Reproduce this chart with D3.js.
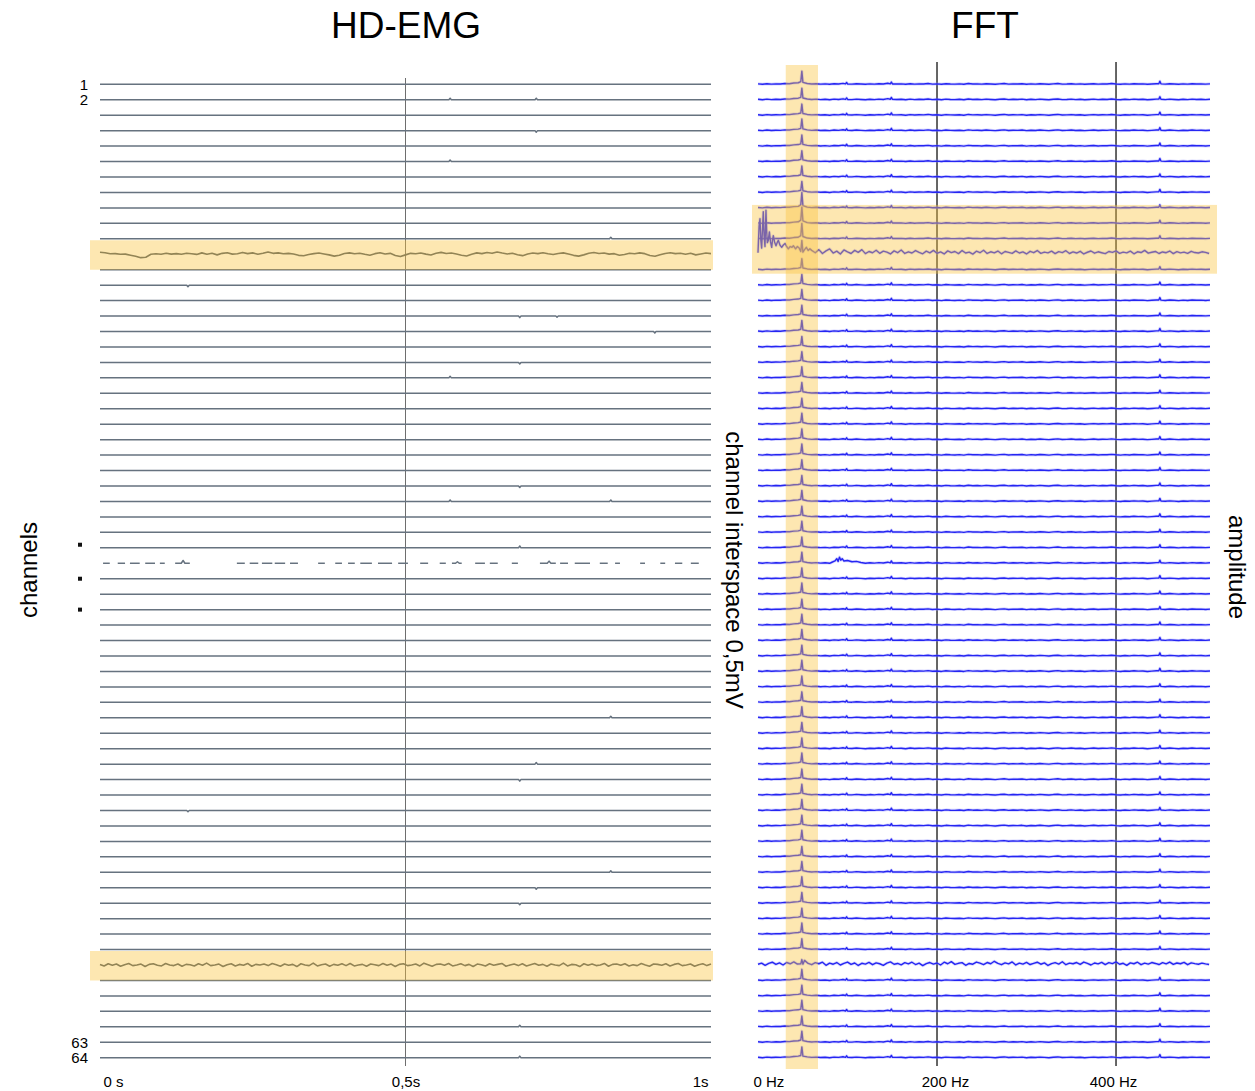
<!DOCTYPE html>
<html>
<head>
<meta charset="utf-8">
<script src="https://cdn.jsdelivr.net/npm/d3@7"></script>
<style>
  body { margin: 0; background: #fff; }
  svg { display: block; font-family: "Liberation Sans", Arial, sans-serif; }
</style>
</head>
<body>
<svg id="chart" width="1255" height="1091"></svg>
<script>
// ---------- data ----------
const channelCount = 64;
const labelledChannels = [1, 2, 63, 64];
const timeTicks = [0, 0.5, 1];
const timeTickLabels = ["0 s", "0,5s", "1s"];
const freqTicks = [0, 200, 400];
const freqTickLabels = ["0 Hz", "200 Hz", "400 Hz"];
const highlightedChannels = [12, 58];

// channel 12: slow wandering artefact (mV, evenly spaced over 1 s)
const ch12Trace = [0.065, 0.050, 0.015, 0.020, 0.000, 0.005, -0.030, -0.065, -0.110, -0.095, 0.000, 0.015, 0.000, 0.030, 0.005, 0.020, 0.000, 0.035, 0.015, -0.005, 0.045, 0.000, 0.030, -0.020, 0.030, 0.050, 0.005, 0.015, 0.060, 0.020, 0.045, 0.000, 0.030, 0.075, 0.030, 0.045, 0.015, 0.030, 0.010, -0.035, -0.050, -0.010, 0.020, 0.040, 0.010, -0.020, -0.060, -0.030, 0.025, 0.045, 0.015, 0.035, 0.000, -0.030, 0.020, 0.050, 0.010, 0.030, -0.040, -0.075, -0.020, 0.030, 0.015, 0.040, 0.005, -0.025, 0.030, 0.060, 0.025, 0.040, 0.010, -0.030, -0.055, 0.000, 0.045, 0.020, 0.055, 0.030, 0.075, 0.040, 0.010, 0.035, -0.015, -0.045, 0.010, 0.040, 0.020, 0.050, 0.015, -0.010, 0.025, 0.045, 0.010, -0.035, -0.060, -0.020, 0.030, 0.055, 0.025, 0.040, 0.005, 0.020, -0.030, -0.010, 0.035, 0.015, 0.045, 0.020, -0.040, -0.065, -0.015, 0.025, 0.050, 0.020, 0.035, 0.000, 0.030, -0.020, 0.010, 0.040, 0.020];

// channel 58: broadband noise (mV, evenly spaced over 1 s)
const ch58Trace = [0.02, -0.03, 0.04, -0.01, 0.03, -0.04, 0.01, 0.05, -0.02, 0.00, 0.03, -0.05, 0.02, 0.04, -0.01, -0.03, 0.05, 0.00, -0.02, 0.03,
  -0.04, 0.02, 0.01, -0.03, 0.04, -0.01, 0.06, -0.02, 0.00, 0.03, -0.05, 0.01, 0.04, -0.03, 0.02, -0.01, 0.05, -0.04, 0.02, 0.00,
  0.03, -0.02, 0.05, 0.01, -0.04, 0.03, -0.01, 0.02, -0.05, 0.04, 0.00, -0.02, 0.06, -0.03, 0.01, 0.03, -0.04, 0.02, -0.01, 0.04,
  -0.02, 0.05, -0.03, 0.00, 0.02, -0.04, 0.03, 0.01, -0.02, 0.05, -0.01, 0.03, -0.05, 0.02, 0.04, -0.02, 0.00, 0.03, -0.03, 0.06,
  0.01, -0.04, 0.02, 0.03, -0.01, 0.05, -0.03, 0.00, 0.04, -0.02, 0.02, -0.05, 0.03, 0.01, -0.03, 0.04, -0.01, 0.02, 0.05, -0.04,
  0.00, 0.03, -0.02, 0.04, -0.03, 0.01, 0.05, -0.01, 0.02, -0.04, 0.03, 0.00, -0.02, 0.06, -0.03, 0.02, 0.01, -0.05, 0.04, -0.01,
  0.03, -0.02, 0.00, 0.05, -0.04, 0.02, 0.03, -0.01, 0.04, -0.03, 0.01, -0.02, 0.05, 0.00, -0.04, 0.03, 0.02, -0.01, 0.04, -0.03,
  0.02, 0.05, -0.02, 0.00, 0.03, -0.04, 0.01, 0.04, -0.02, 0.03];

// channel 32: intermittent contact, only short pieces recorded (s)
const ch32Segments = [[0.005, 0.016], [0.029, 0.041], [0.049, 0.065], [0.074, 0.090], [0.098, 0.106], [0.123, 0.147],
  [0.224, 0.237], [0.245, 0.259], [0.265, 0.282], [0.286, 0.303], [0.311, 0.324], [0.357, 0.368], [0.385, 0.396],
  [0.406, 0.417], [0.426, 0.445], [0.455, 0.478], [0.488, 0.504], [0.524, 0.537], [0.556, 0.566], [0.576, 0.592],
  [0.614, 0.630], [0.638, 0.651], [0.674, 0.684], [0.720, 0.746], [0.753, 0.766], [0.777, 0.802], [0.818, 0.831],
  [0.843, 0.851], [0.884, 0.892], [0.917, 0.925], [0.941, 0.953], [0.967, 0.980]];
const ch32BumpTimes = [0.136, 0.585, 0.735];
const ch32BumpValues = [0.09, 0.05, 0.07];

// isolated spikes on the quiet channels
const spikeChannels = [2, 2, 4, 6, 11, 14, 16, 16, 17, 19, 20, 27, 28, 28, 31, 42, 45, 46, 48, 52, 53, 54, 62, 64];
const spikeTimes = [0.573, 0.714, 0.714, 0.573, 0.836, 0.144, 0.687, 0.748, 0.908, 0.687, 0.573, 0.687, 0.573, 0.836, 0.687, 0.836, 0.714, 0.687, 0.144, 0.836, 0.714, 0.687, 0.687, 0.687];
const spikeValues = [0.05, 0.05, -0.05, 0.05, 0.05, -0.05, -0.05, -0.04, -0.05, -0.05, 0.05, -0.05, 0.05, 0.05, 0.06, 0.05, 0.05, -0.05, -0.04, 0.05, -0.05, -0.05, 0.05, 0.05];

// spectra (amplitude in units of one row spacing)
const rippleFreqs = d3.range(0, 506, 5);
const baseRipple = [0.03, 0.00, 0.04, 0.01, 0.03, 0.02, 0.05, 0.04, 0.08, 0.10,
  0.10, 0.05, 0.02, 0.04, 0.01, 0.03, 0.00, 0.04, 0.02, 0.06,
  0.03, 0.01, 0.04, 0.02, 0.00, 0.03, 0.01, 0.04, 0.02, 0.07,
  0.05, 0.02, 0.03, 0.00, 0.04, 0.01, 0.03, 0.02, 0.05, 0.01,
  0.03, 0.00, 0.04, 0.02, 0.01, 0.03, 0.00, 0.05, 0.02, 0.03,
  0.01, 0.04, 0.02, 0.00, 0.03, 0.05, 0.01, 0.03, 0.02, 0.04,
  0.00, 0.03, 0.01, 0.04, 0.02, 0.00, 0.03, 0.05, 0.01, 0.02,
  0.04, 0.01, 0.03, 0.00, 0.02, 0.04, 0.01, 0.03, 0.02, 0.05,
  0.02, 0.00, 0.03, 0.01, 0.04, 0.02, 0.03, 0.00, 0.02, 0.04,
  0.03, 0.01, 0.04, 0.02, 0.00, 0.03, 0.01, 0.04, 0.02, 0.03,
  0.01, 0.03];
const mainsFreq = 49;
const mainsPeak = [0.85, 0.75, 0.72, 0.75, 0.72, 0.70, 0.72, 0.72, 1.0, 1.05,
  1.0, 0.9, 0.72, 0.70, 0.72, 0.70, 0.72, 0.68, 0.70, 0.72,
  0.70, 0.68, 0.72, 0.70, 0.72, 0.70, 0.68, 0.72, 0.70, 0.72,
  0.70, 0.72, 0.70, 0.72, 0.68, 0.70, 0.72, 0.70, 0.72, 0.70,
  0.68, 0.72, 0.70, 0.70, 0.72, 0.68, 0.70, 0.72, 0.70, 0.72,
  0.68, 0.70, 0.72, 0.70, 0.68, 0.72, 0.70, 0.35, 0.72, 0.70,
  0.72, 0.70, 0.72, 0.70];
const harmonicFreqs = [99, 149, 449];
const harmonicPeaks = [0.12, 0.15, 0.2];

// channel 12 spectrum: strong low-frequency content
const ch12LowFreq = [[0, 0.1], [1.2, 1.8], [2.2, 2.3], [3.2, 0.9], [4.1, 0.4], [5.0, 1.6], [5.9, 2.75], [6.8, 1.2], [7.8, 0.5],
  [8.9, 2.85], [9.6, 1.6], [10.4, 0.75], [11.5, 0.9], [12.7, 1.45], [14, 0.8], [15.3, 0.45], [16.2, 0.9], [17.1, 1.2],
  [18.5, 0.8], [20.1, 0.55], [21.4, 0.75], [22.7, 0.9], [24.5, 0.6], [26.5, 0.45], [28.3, 0.6], [30.2, 0.7], [32, 0.5],
  [33.9, 0.35], [36, 0.5], [38, 0.45], [39.5, 0.55], [42, 0.35], [44, 0.5], [46, 0.4], [52, 0.3], [54, 0.45], [56, 0.25], [58, 0.35]];
const ch12TailFreqs = d3.range(60, 505, 4);
const ch12Tail = [0.25, 0.10, 0.30, 0.05, 0.22, 0.35, 0.08, 0.20, 0.02, 0.28,
  0.15, 0.05, 0.25, 0.12, 0.30, 0.04, 0.18, 0.10, 0.26, 0.06,
  0.20, 0.14, 0.02, 0.22, 0.10, 0.28, 0.05, 0.16, 0.08, 0.24,
  0.12, 0.03, 0.20, 0.09, 0.25, 0.06, 0.15, 0.02, 0.22, 0.11,
  0.18, 0.04, 0.24, 0.08, 0.14, 0.01, 0.20, 0.10, 0.26, 0.05,
  0.16, 0.09, 0.21, 0.03, 0.18, 0.12, 0.06, 0.22, 0.08, 0.15,
  0.02, 0.19, 0.10, 0.24, 0.06, 0.14, 0.09, 0.20, 0.04, 0.17,
  0.11, 0.23, 0.05, 0.15, 0.08, 0.19, 0.02, 0.13, 0.21, 0.07,
  0.16, 0.10, 0.04, 0.18, 0.12, 0.22, 0.06, 0.14, 0.09, 0.20,
  0.03, 0.16, 0.11, 0.25, 0.07, 0.13, 0.18, 0.05, 0.15, 0.10,
  0.21, 0.04, 0.17, 0.09, 0.14, 0.06, 0.19, 0.11, 0.08, 0.16,
  0.12, 0.05];

// channel 58 spectrum: broadband noise floor
const ch58Freqs = d3.range(0, 505, 4);
const ch58Spectrum = [0.05, 0.12, -0.02, 0.10, 0.18, 0.04, 0.14, 0.00, 0.16, 0.08,
  0.20, 0.06, 0.12, 0.30, 0.10, 0.02, 0.15, 0.08, 0.18, -0.02,
  0.12, 0.05, 0.16, 0.00, 0.10, 0.19, 0.04, 0.13, -0.03, 0.11,
  0.06, 0.17, 0.02, 0.14, 0.08, -0.02, 0.12, 0.20, 0.05, 0.10,
  0.01, 0.15, 0.07, 0.18, 0.03, 0.12, -0.04, 0.09, 0.16, 0.06,
  0.13, 0.00, 0.18, 0.08, 0.22, 0.04, 0.11, 0.15, -0.02, 0.10,
  0.05, 0.19, 0.12, 0.03, 0.16, 0.08, 0.24, 0.10, 0.02, 0.14,
  0.07, 0.20, 0.00, 0.12, 0.06, 0.17, 0.03, 0.11, 0.18, 0.05,
  0.14, -0.03, 0.09, 0.15, 0.06, 0.21, 0.02, 0.12, 0.08, 0.16,
  0.04, 0.19, 0.10, 0.00, 0.13, 0.07, 0.17, 0.03, 0.15, 0.09,
  0.20, 0.05, 0.11, -0.02, 0.14, 0.08, 0.18, 0.02, 0.12, 0.06,
  0.16, 0.10, 0.03, 0.15, 0.07, 0.19, 0.04, 0.13, 0.08, 0.17,
  0.02, 0.14, 0.09, 0.05, 0.12, 0.07, 0.03];

// channel 32 spectrum: small hump near 90 Hz
const ch32Hump = [[82, 0.05], [86, 0.15], [88, 0.3], [89.5, 0.12], [91, 0.4], [92.5, 0.2], [94, 0.3], [96, 0.15], [100, 0.18], [105, 0.1], [110, 0.12], [115, 0.05]];

// shaded regions
const fftRowBand = [9, 13];     // channels
const mainsBand = [31, 67];     // Hz

// ---------- layout ----------
const svg = d3.select("#chart");
const emgX = d3.scaleLinear().domain([0, 1]).range([100, 711]);
const rowY = d3.scaleLinear().domain([1, channelCount]).range([84.3, 1057.7]);
const rowStep = rowY(2) - rowY(1);
const mvToPx = d3.scaleLinear().domain([0, 0.5]).range([0, rowStep]);
const fftX = d3.scaleLinear().domain([0, 505]).range([758, 1210]);
const ampToPx = d3.scaleLinear().domain([0, 1]).range([0, rowStep]);

const hlFill = "rgb(250,195,60)";
const hlOpacity = 0.4;

// titles
svg.append("text").attr("x", 406).attr("y", 38).attr("text-anchor", "middle")
  .attr("font-size", 37).text("HD-EMG");
svg.append("text").attr("x", 985).attr("y", 38).attr("text-anchor", "middle")
  .attr("font-size", 37).text("FFT");

// side labels
svg.append("text").attr("transform", "translate(37,570) rotate(-90)")
  .attr("text-anchor", "middle").attr("font-size", 24).text("channels");
svg.append("text").attr("transform", "translate(726,570) rotate(90)")
  .attr("text-anchor", "middle").attr("font-size", 24).text("channel interspace 0,5mV");
svg.append("text").attr("transform", "translate(1229,567) rotate(90)")
  .attr("text-anchor", "middle").attr("font-size", 24).text("amplitude");

// ---------- HD-EMG panel ----------
const emg = svg.append("g");
emg.append("line")
  .attr("x1", emgX(0.5)).attr("x2", emgX(0.5))
  .attr("y1", 78).attr("y2", 1066)
  .attr("stroke", "#6e6e6e").attr("stroke-width", 1);

function emgSegments(ch) {
  if (ch === 12) return [ch12Trace.map((v, k) => [k / (ch12Trace.length - 1), v])];
  if (ch === 58) return [ch58Trace.map((v, k) => [k / (ch58Trace.length - 1), v])];
  if (ch === 32) {
    return ch32Segments.map(([a, b]) => {
      const pts = [[a, 0]];
      ch32BumpTimes.forEach((t, k) => {
        if (t > a && t < b) pts.push([t - 0.003, 0], [t, ch32BumpValues[k]], [t + 0.003, 0]);
      });
      pts.push([b, 0]);
      return pts;
    });
  }
  const pts = [[0, 0]];
  spikeChannels.map((c, k) => ({ c, t: spikeTimes[k], v: spikeValues[k] }))
    .filter(s => s.c === ch)
    .sort((a, b) => a.t - b.t)
    .forEach(s => pts.push([s.t - 0.002, 0], [s.t, s.v], [s.t + 0.002, 0]));
  pts.push([1, 0]);
  return [pts];
}

const channels = d3.range(1, channelCount + 1);
channels.forEach(ch => {
  const line = d3.line().x(d => emgX(d[0])).y(d => rowY(ch) - mvToPx(d[1]));
  const isTrace = highlightedChannels.includes(ch);
  emgSegments(ch).forEach(seg => {
    emg.append("path").attr("d", line(seg))
      .attr("fill", "none")
      .attr("stroke", isTrace ? "#4e5a66" : "#66727f")
      .attr("stroke-width", isTrace ? 1.6 : 1.5)
      .attr("stroke-linejoin", "round");
  });
});

// channel numbers and ellipsis
emg.selectAll("text.chlabel").data(labelledChannels).join("text")
  .attr("class", "chlabel")
  .attr("x", 88).attr("y", d => rowY(d))
  .attr("dy", "0.36em").attr("text-anchor", "end")
  .attr("font-size", 15).text(d => d);
emg.selectAll("rect.dot").data([30.8, 33, 35]).join("rect")
  .attr("class", "dot")
  .attr("x", 78).attr("y", d => rowY(d) - 2)
  .attr("width", 4).attr("height", 4).attr("fill", "#111");

// highlighted channels
highlightedChannels.forEach(ch => {
  emg.append("rect")
    .attr("x", emgX(0) - 10).attr("width", emgX(1) - emgX(0) + 12)
    .attr("y", rowY(ch) - 14).attr("height", 29.5)
    .attr("fill", hlFill).attr("opacity", hlOpacity);
});

// time axis
const timeAxis = d3.axisBottom(emgX).tickValues(timeTicks)
  .tickFormat((d, i) => timeTickLabels[i]).tickSize(0);
const tg = svg.append("g").attr("transform", "translate(0,1087)").call(timeAxis);
tg.select(".domain").remove();
tg.selectAll("text").attr("y", 0).attr("dy", 0)
  .attr("font-size", 15).attr("fill", "#000")
  .attr("font-family", "Liberation Sans, Arial, sans-serif")
  .attr("text-anchor", (d, i) => i === 0 ? "start" : i === timeTicks.length - 1 ? "end" : "middle")
  .attr("dx", (d, i) => i === 0 ? 3 : i === timeTicks.length - 1 ? -3 : 0);

// ---------- FFT panel ----------
const fft = svg.append("g");
freqTicks.filter(f => f > 0).forEach(f => {
  fft.append("line")
    .attr("x1", fftX(f)).attr("x2", fftX(f))
    .attr("y1", 62).attr("y2", 1066)
    .attr("stroke", "#333").attr("stroke-width", 1.5);
});

function addPeak(points, f, h) {
  const kept = points.filter(p => Math.abs(p[0] - f) >= 2.5);
  kept.push([f - 1.2, h * 0.2], [f, h], [f + 1.2, h * 0.15]);
  return kept;
}

function spectrum(ch) {
  let pts;
  if (ch === 12) {
    pts = ch12LowFreq.concat(ch12TailFreqs.map((f, k) => [f, ch12Tail[k]]));
  } else if (ch === 58) {
    pts = ch58Freqs.map((f, k) => [f, ch58Spectrum[k]]);
  } else {
    pts = rippleFreqs.map((f, k) => [f, baseRipple[k]]);
    harmonicFreqs.forEach((f, k) => { pts = addPeak(pts, f, harmonicPeaks[k]); });
  }
  if (ch === 32) {
    const lo = ch32Hump[0][0], hi = ch32Hump[ch32Hump.length - 1][0];
    pts = pts.filter(p => p[0] < lo || p[0] > hi).concat(ch32Hump);
  }
  pts = addPeak(pts, mainsFreq, mainsPeak[ch - 1]);
  return pts.sort((a, b) => a[0] - b[0]);
}

channels.forEach(ch => {
  const line = d3.line().x(d => fftX(d[0])).y(d => rowY(ch) - ampToPx(d[1]));
  const d = line(spectrum(ch));
  fft.append("path").attr("d", d).attr("fill", "none")
    .attr("stroke", "#8c8cff").attr("stroke-width", 3).attr("opacity", 0.35)
    .attr("stroke-linejoin", "round");
  fft.append("path").attr("d", d).attr("fill", "none")
    .attr("stroke", "#2525f2").attr("stroke-width", 1.4)
    .attr("stroke-linejoin", "round");
});

// shaded mains band and row band
fft.append("rect")
  .attr("x", fftX(mainsBand[0])).attr("width", fftX(mainsBand[1]) - fftX(mainsBand[0]))
  .attr("y", 65).attr("height", 1004)
  .attr("fill", hlFill).attr("opacity", hlOpacity);
fft.append("rect")
  .attr("x", 752).attr("width", 465)
  .attr("y", rowY(fftRowBand[0]) - 3).attr("height", rowY(fftRowBand[1]) - rowY(fftRowBand[0]) + 7)
  .attr("fill", hlFill).attr("opacity", hlOpacity);

// frequency axis
const freqAxis = d3.axisBottom(fftX).tickValues(freqTicks)
  .tickFormat((d, i) => freqTickLabels[i]).tickSize(0);
const fg = svg.append("g").attr("transform", "translate(0,1087)").call(freqAxis);
fg.select(".domain").remove();
fg.selectAll("text").attr("y", 0).attr("dy", 0)
  .attr("font-size", 15).attr("fill", "#000")
  .attr("font-family", "Liberation Sans, Arial, sans-serif")
  .attr("text-anchor", (d, i) => i === 0 ? "start" : "middle")
  .attr("dx", (d, i) => i === 0 ? -5 : i === 1 ? 8 : -3);
</script>
</body>
</html>
